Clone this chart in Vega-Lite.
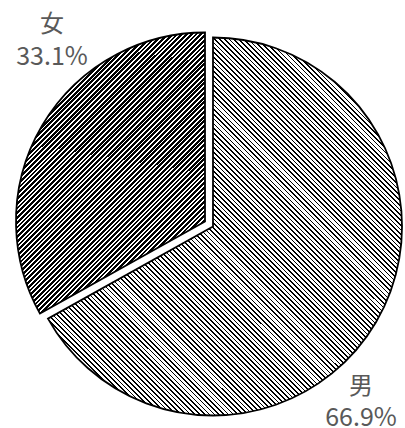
{
  "$schema": "https://vega.github.io/schema/vega-lite/v6.json",
  "width": 384,
  "height": 403,
  "autosize": {"type": "none"},
  "padding": {"left": 21, "top": 25, "right": 0, "bottom": 0},
  "background": "white",
  "config": {"view": {"stroke": null}},
  "data": {"values": [
    {"sex": "男", "share": 0.669},
    {"sex": "女", "share": 0.331}
  ]},
  "encoding": {
    "theta": {"field": "share", "type": "quantitative", "stack": true},
    "order": {"field": "share", "sort": "descending"},
    "detail": {"field": "sex"}
  },
  "layer": [
    {
      "mark": {"type": "arc", "outerRadius": 189, "stroke": "#000000", "strokeWidth": 1.8,
        "fill": {"gradient": "linear", "x1": 0, "y1": 1, "x2": 0.9662, "y2": -0.0317, "stops": [
{"offset":0,"color":"#000"},{"offset":0.0023,"color":"#000"},{"offset":0.0023,"color":"#fff"},{"offset":0.0065,"color":"#fff"},
{"offset":0.0065,"color":"#000"},{"offset":0.0088,"color":"#000"},{"offset":0.0088,"color":"#fff"},{"offset":0.013,"color":"#fff"},
{"offset":0.013,"color":"#000"},{"offset":0.0153,"color":"#000"},{"offset":0.0153,"color":"#fff"},{"offset":0.0195,"color":"#fff"},
{"offset":0.0195,"color":"#000"},{"offset":0.0218,"color":"#000"},{"offset":0.0218,"color":"#fff"},{"offset":0.026,"color":"#fff"},
{"offset":0.026,"color":"#000"},{"offset":0.0283,"color":"#000"},{"offset":0.0283,"color":"#fff"},{"offset":0.0325,"color":"#fff"},
{"offset":0.0325,"color":"#000"},{"offset":0.0348,"color":"#000"},{"offset":0.0348,"color":"#fff"},{"offset":0.039,"color":"#fff"},
{"offset":0.039,"color":"#000"},{"offset":0.0413,"color":"#000"},{"offset":0.0413,"color":"#fff"},{"offset":0.0455,"color":"#fff"},
{"offset":0.0455,"color":"#000"},{"offset":0.0478,"color":"#000"},{"offset":0.0478,"color":"#fff"},{"offset":0.052,"color":"#fff"},
{"offset":0.052,"color":"#000"},{"offset":0.0543,"color":"#000"},{"offset":0.0543,"color":"#fff"},{"offset":0.0585,"color":"#fff"},
{"offset":0.0585,"color":"#000"},{"offset":0.0608,"color":"#000"},{"offset":0.0608,"color":"#fff"},{"offset":0.065,"color":"#fff"},
{"offset":0.065,"color":"#000"},{"offset":0.0673,"color":"#000"},{"offset":0.0673,"color":"#fff"},{"offset":0.0715,"color":"#fff"},
{"offset":0.0715,"color":"#000"},{"offset":0.0738,"color":"#000"},{"offset":0.0738,"color":"#fff"},{"offset":0.078,"color":"#fff"},
{"offset":0.078,"color":"#000"},{"offset":0.0803,"color":"#000"},{"offset":0.0803,"color":"#fff"},{"offset":0.0845,"color":"#fff"},
{"offset":0.0845,"color":"#000"},{"offset":0.0868,"color":"#000"},{"offset":0.0868,"color":"#fff"},{"offset":0.091,"color":"#fff"},
{"offset":0.091,"color":"#000"},{"offset":0.0933,"color":"#000"},{"offset":0.0933,"color":"#fff"},{"offset":0.0975,"color":"#fff"},
{"offset":0.0975,"color":"#000"},{"offset":0.0998,"color":"#000"},{"offset":0.0998,"color":"#fff"},{"offset":0.104,"color":"#fff"},
{"offset":0.104,"color":"#000"},{"offset":0.1063,"color":"#000"},{"offset":0.1063,"color":"#fff"},{"offset":0.1105,"color":"#fff"},
{"offset":0.1105,"color":"#000"},{"offset":0.1128,"color":"#000"},{"offset":0.1128,"color":"#fff"},{"offset":0.117,"color":"#fff"},
{"offset":0.117,"color":"#000"},{"offset":0.1193,"color":"#000"},{"offset":0.1193,"color":"#fff"},{"offset":0.1235,"color":"#fff"},
{"offset":0.1235,"color":"#000"},{"offset":0.1258,"color":"#000"},{"offset":0.1258,"color":"#fff"},{"offset":0.13,"color":"#fff"},
{"offset":0.13,"color":"#000"},{"offset":0.1323,"color":"#000"},{"offset":0.1323,"color":"#fff"},{"offset":0.1365,"color":"#fff"},
{"offset":0.1365,"color":"#000"},{"offset":0.1388,"color":"#000"},{"offset":0.1388,"color":"#fff"},{"offset":0.143,"color":"#fff"},
{"offset":0.143,"color":"#000"},{"offset":0.1453,"color":"#000"},{"offset":0.1453,"color":"#fff"},{"offset":0.1495,"color":"#fff"},
{"offset":0.1495,"color":"#000"},{"offset":0.1518,"color":"#000"},{"offset":0.1518,"color":"#fff"},{"offset":0.156,"color":"#fff"},
{"offset":0.156,"color":"#000"},{"offset":0.1583,"color":"#000"},{"offset":0.1583,"color":"#fff"},{"offset":0.1625,"color":"#fff"},
{"offset":0.1625,"color":"#000"},{"offset":0.1648,"color":"#000"},{"offset":0.1648,"color":"#fff"},{"offset":0.169,"color":"#fff"},
{"offset":0.169,"color":"#000"},{"offset":0.1713,"color":"#000"},{"offset":0.1713,"color":"#fff"},{"offset":0.1755,"color":"#fff"},
{"offset":0.1755,"color":"#000"},{"offset":0.1778,"color":"#000"},{"offset":0.1778,"color":"#fff"},{"offset":0.182,"color":"#fff"},
{"offset":0.182,"color":"#000"},{"offset":0.1843,"color":"#000"},{"offset":0.1843,"color":"#fff"},{"offset":0.1885,"color":"#fff"},
{"offset":0.1885,"color":"#000"},{"offset":0.1908,"color":"#000"},{"offset":0.1908,"color":"#fff"},{"offset":0.195,"color":"#fff"},
{"offset":0.195,"color":"#000"},{"offset":0.1973,"color":"#000"},{"offset":0.1973,"color":"#fff"},{"offset":0.2015,"color":"#fff"},
{"offset":0.2015,"color":"#000"},{"offset":0.2038,"color":"#000"},{"offset":0.2038,"color":"#fff"},{"offset":0.208,"color":"#fff"},
{"offset":0.208,"color":"#000"},{"offset":0.2103,"color":"#000"},{"offset":0.2103,"color":"#fff"},{"offset":0.2145,"color":"#fff"},
{"offset":0.2145,"color":"#000"},{"offset":0.2168,"color":"#000"},{"offset":0.2168,"color":"#fff"},{"offset":0.221,"color":"#fff"},
{"offset":0.221,"color":"#000"},{"offset":0.2233,"color":"#000"},{"offset":0.2233,"color":"#fff"},{"offset":0.2275,"color":"#fff"},
{"offset":0.2275,"color":"#000"},{"offset":0.2298,"color":"#000"},{"offset":0.2298,"color":"#fff"},{"offset":0.234,"color":"#fff"},
{"offset":0.234,"color":"#000"},{"offset":0.2363,"color":"#000"},{"offset":0.2363,"color":"#fff"},{"offset":0.2405,"color":"#fff"},
{"offset":0.2405,"color":"#000"},{"offset":0.2428,"color":"#000"},{"offset":0.2428,"color":"#fff"},{"offset":0.247,"color":"#fff"},
{"offset":0.247,"color":"#000"},{"offset":0.2493,"color":"#000"},{"offset":0.2493,"color":"#fff"},{"offset":0.2535,"color":"#fff"},
{"offset":0.2535,"color":"#000"},{"offset":0.2558,"color":"#000"},{"offset":0.2558,"color":"#fff"},{"offset":0.26,"color":"#fff"},
{"offset":0.26,"color":"#000"},{"offset":0.2623,"color":"#000"},{"offset":0.2623,"color":"#fff"},{"offset":0.2665,"color":"#fff"},
{"offset":0.2665,"color":"#000"},{"offset":0.2688,"color":"#000"},{"offset":0.2688,"color":"#fff"},{"offset":0.273,"color":"#fff"},
{"offset":0.273,"color":"#000"},{"offset":0.2753,"color":"#000"},{"offset":0.2753,"color":"#fff"},{"offset":0.2795,"color":"#fff"},
{"offset":0.2795,"color":"#000"},{"offset":0.2818,"color":"#000"},{"offset":0.2818,"color":"#fff"},{"offset":0.286,"color":"#fff"},
{"offset":0.286,"color":"#000"},{"offset":0.2883,"color":"#000"},{"offset":0.2883,"color":"#fff"},{"offset":0.2925,"color":"#fff"},
{"offset":0.2925,"color":"#000"},{"offset":0.2948,"color":"#000"},{"offset":0.2948,"color":"#fff"},{"offset":0.299,"color":"#fff"},
{"offset":0.299,"color":"#000"},{"offset":0.3013,"color":"#000"},{"offset":0.3013,"color":"#fff"},{"offset":0.3055,"color":"#fff"},
{"offset":0.3055,"color":"#000"},{"offset":0.3078,"color":"#000"},{"offset":0.3078,"color":"#fff"},{"offset":0.312,"color":"#fff"},
{"offset":0.312,"color":"#000"},{"offset":0.3143,"color":"#000"},{"offset":0.3143,"color":"#fff"},{"offset":0.3185,"color":"#fff"},
{"offset":0.3185,"color":"#000"},{"offset":0.3208,"color":"#000"},{"offset":0.3208,"color":"#fff"},{"offset":0.325,"color":"#fff"},
{"offset":0.325,"color":"#000"},{"offset":0.3273,"color":"#000"},{"offset":0.3273,"color":"#fff"},{"offset":0.3315,"color":"#fff"},
{"offset":0.3315,"color":"#000"},{"offset":0.3338,"color":"#000"},{"offset":0.3338,"color":"#fff"},{"offset":0.338,"color":"#fff"},
{"offset":0.338,"color":"#000"},{"offset":0.3403,"color":"#000"},{"offset":0.3403,"color":"#fff"},{"offset":0.3445,"color":"#fff"},
{"offset":0.3445,"color":"#000"},{"offset":0.3468,"color":"#000"},{"offset":0.3468,"color":"#fff"},{"offset":0.351,"color":"#fff"},
{"offset":0.351,"color":"#000"},{"offset":0.3533,"color":"#000"},{"offset":0.3533,"color":"#fff"},{"offset":0.3575,"color":"#fff"},
{"offset":0.3575,"color":"#000"},{"offset":0.3598,"color":"#000"},{"offset":0.3598,"color":"#fff"},{"offset":0.364,"color":"#fff"},
{"offset":0.364,"color":"#000"},{"offset":0.3663,"color":"#000"},{"offset":0.3663,"color":"#fff"},{"offset":0.3705,"color":"#fff"},
{"offset":0.3705,"color":"#000"},{"offset":0.3728,"color":"#000"},{"offset":0.3728,"color":"#fff"},{"offset":0.377,"color":"#fff"},
{"offset":0.377,"color":"#000"},{"offset":0.3793,"color":"#000"},{"offset":0.3793,"color":"#fff"},{"offset":0.3835,"color":"#fff"},
{"offset":0.3835,"color":"#000"},{"offset":0.3858,"color":"#000"},{"offset":0.3858,"color":"#fff"},{"offset":0.39,"color":"#fff"},
{"offset":0.39,"color":"#000"},{"offset":0.3923,"color":"#000"},{"offset":0.3923,"color":"#fff"},{"offset":0.3965,"color":"#fff"},
{"offset":0.3965,"color":"#000"},{"offset":0.3988,"color":"#000"},{"offset":0.3988,"color":"#fff"},{"offset":0.403,"color":"#fff"},
{"offset":0.403,"color":"#000"},{"offset":0.4053,"color":"#000"},{"offset":0.4053,"color":"#fff"},{"offset":0.4095,"color":"#fff"},
{"offset":0.4095,"color":"#000"},{"offset":0.4118,"color":"#000"},{"offset":0.4118,"color":"#fff"},{"offset":0.416,"color":"#fff"},
{"offset":0.416,"color":"#000"},{"offset":0.4183,"color":"#000"},{"offset":0.4183,"color":"#fff"},{"offset":0.4225,"color":"#fff"},
{"offset":0.4225,"color":"#000"},{"offset":0.4248,"color":"#000"},{"offset":0.4248,"color":"#fff"},{"offset":0.429,"color":"#fff"},
{"offset":0.429,"color":"#000"},{"offset":0.4313,"color":"#000"},{"offset":0.4313,"color":"#fff"},{"offset":0.4355,"color":"#fff"},
{"offset":0.4355,"color":"#000"},{"offset":0.4378,"color":"#000"},{"offset":0.4378,"color":"#fff"},{"offset":0.442,"color":"#fff"},
{"offset":0.442,"color":"#000"},{"offset":0.4443,"color":"#000"},{"offset":0.4443,"color":"#fff"},{"offset":0.4485,"color":"#fff"},
{"offset":0.4485,"color":"#000"},{"offset":0.4508,"color":"#000"},{"offset":0.4508,"color":"#fff"},{"offset":0.455,"color":"#fff"},
{"offset":0.455,"color":"#000"},{"offset":0.4573,"color":"#000"},{"offset":0.4573,"color":"#fff"},{"offset":0.4615,"color":"#fff"},
{"offset":0.4615,"color":"#000"},{"offset":0.4638,"color":"#000"},{"offset":0.4638,"color":"#fff"},{"offset":0.468,"color":"#fff"},
{"offset":0.468,"color":"#000"},{"offset":0.4703,"color":"#000"},{"offset":0.4703,"color":"#fff"},{"offset":0.4745,"color":"#fff"},
{"offset":0.4745,"color":"#000"},{"offset":0.4768,"color":"#000"},{"offset":0.4768,"color":"#fff"},{"offset":0.481,"color":"#fff"},
{"offset":0.481,"color":"#000"},{"offset":0.4833,"color":"#000"},{"offset":0.4833,"color":"#fff"},{"offset":0.4875,"color":"#fff"},
{"offset":0.4875,"color":"#000"},{"offset":0.4898,"color":"#000"},{"offset":0.4898,"color":"#fff"},{"offset":0.494,"color":"#fff"},
{"offset":0.494,"color":"#000"},{"offset":0.4963,"color":"#000"},{"offset":0.4963,"color":"#fff"},{"offset":0.5005,"color":"#fff"},
{"offset":0.5005,"color":"#000"},{"offset":0.5028,"color":"#000"},{"offset":0.5028,"color":"#fff"},{"offset":0.507,"color":"#fff"},
{"offset":0.507,"color":"#000"},{"offset":0.5093,"color":"#000"},{"offset":0.5093,"color":"#fff"},{"offset":0.5135,"color":"#fff"},
{"offset":0.5135,"color":"#000"},{"offset":0.5158,"color":"#000"},{"offset":0.5158,"color":"#fff"},{"offset":0.52,"color":"#fff"},
{"offset":0.52,"color":"#000"},{"offset":0.5223,"color":"#000"},{"offset":0.5223,"color":"#fff"},{"offset":0.5265,"color":"#fff"},
{"offset":0.5265,"color":"#000"},{"offset":0.5288,"color":"#000"},{"offset":0.5288,"color":"#fff"},{"offset":0.533,"color":"#fff"},
{"offset":0.533,"color":"#000"},{"offset":0.5353,"color":"#000"},{"offset":0.5353,"color":"#fff"},{"offset":0.5395,"color":"#fff"},
{"offset":0.5395,"color":"#000"},{"offset":0.5418,"color":"#000"},{"offset":0.5418,"color":"#fff"},{"offset":0.546,"color":"#fff"},
{"offset":0.546,"color":"#000"},{"offset":0.5483,"color":"#000"},{"offset":0.5483,"color":"#fff"},{"offset":0.5525,"color":"#fff"},
{"offset":0.5525,"color":"#000"},{"offset":0.5548,"color":"#000"},{"offset":0.5548,"color":"#fff"},{"offset":0.559,"color":"#fff"},
{"offset":0.559,"color":"#000"},{"offset":0.5613,"color":"#000"},{"offset":0.5613,"color":"#fff"},{"offset":0.5655,"color":"#fff"},
{"offset":0.5655,"color":"#000"},{"offset":0.5678,"color":"#000"},{"offset":0.5678,"color":"#fff"},{"offset":0.572,"color":"#fff"},
{"offset":0.572,"color":"#000"},{"offset":0.5743,"color":"#000"},{"offset":0.5743,"color":"#fff"},{"offset":0.5785,"color":"#fff"},
{"offset":0.5785,"color":"#000"},{"offset":0.5808,"color":"#000"},{"offset":0.5808,"color":"#fff"},{"offset":0.585,"color":"#fff"},
{"offset":0.585,"color":"#000"},{"offset":0.5873,"color":"#000"},{"offset":0.5873,"color":"#fff"},{"offset":0.5915,"color":"#fff"},
{"offset":0.5915,"color":"#000"},{"offset":0.5938,"color":"#000"},{"offset":0.5938,"color":"#fff"},{"offset":0.598,"color":"#fff"},
{"offset":0.598,"color":"#000"},{"offset":0.6003,"color":"#000"},{"offset":0.6003,"color":"#fff"},{"offset":0.6045,"color":"#fff"},
{"offset":0.6045,"color":"#000"},{"offset":0.6068,"color":"#000"},{"offset":0.6068,"color":"#fff"},{"offset":0.611,"color":"#fff"},
{"offset":0.611,"color":"#000"},{"offset":0.6133,"color":"#000"},{"offset":0.6133,"color":"#fff"},{"offset":0.6175,"color":"#fff"},
{"offset":0.6175,"color":"#000"},{"offset":0.6198,"color":"#000"},{"offset":0.6198,"color":"#fff"},{"offset":0.624,"color":"#fff"},
{"offset":0.624,"color":"#000"},{"offset":0.6263,"color":"#000"},{"offset":0.6263,"color":"#fff"},{"offset":0.6305,"color":"#fff"},
{"offset":0.6305,"color":"#000"},{"offset":0.6328,"color":"#000"},{"offset":0.6328,"color":"#fff"},{"offset":0.637,"color":"#fff"},
{"offset":0.637,"color":"#000"},{"offset":0.6393,"color":"#000"},{"offset":0.6393,"color":"#fff"},{"offset":0.6435,"color":"#fff"},
{"offset":0.6435,"color":"#000"},{"offset":0.6458,"color":"#000"},{"offset":0.6458,"color":"#fff"},{"offset":0.65,"color":"#fff"},
{"offset":0.65,"color":"#000"},{"offset":0.6523,"color":"#000"},{"offset":0.6523,"color":"#fff"},{"offset":0.6565,"color":"#fff"},
{"offset":0.6565,"color":"#000"},{"offset":0.6588,"color":"#000"},{"offset":0.6588,"color":"#fff"},{"offset":0.663,"color":"#fff"},
{"offset":0.663,"color":"#000"},{"offset":0.6653,"color":"#000"},{"offset":0.6653,"color":"#fff"},{"offset":0.6695,"color":"#fff"},
{"offset":0.6695,"color":"#000"},{"offset":0.6718,"color":"#000"},{"offset":0.6718,"color":"#fff"},{"offset":0.676,"color":"#fff"},
{"offset":0.676,"color":"#000"},{"offset":0.6783,"color":"#000"},{"offset":0.6783,"color":"#fff"},{"offset":0.6825,"color":"#fff"},
{"offset":0.6825,"color":"#000"},{"offset":0.6848,"color":"#000"},{"offset":0.6848,"color":"#fff"},{"offset":0.689,"color":"#fff"},
{"offset":0.689,"color":"#000"},{"offset":0.6913,"color":"#000"},{"offset":0.6913,"color":"#fff"},{"offset":0.6955,"color":"#fff"},
{"offset":0.6955,"color":"#000"},{"offset":0.6978,"color":"#000"},{"offset":0.6978,"color":"#fff"},{"offset":0.702,"color":"#fff"},
{"offset":0.702,"color":"#000"},{"offset":0.7043,"color":"#000"},{"offset":0.7043,"color":"#fff"},{"offset":0.7085,"color":"#fff"},
{"offset":0.7085,"color":"#000"},{"offset":0.7108,"color":"#000"},{"offset":0.7108,"color":"#fff"},{"offset":0.715,"color":"#fff"},
{"offset":0.715,"color":"#000"},{"offset":0.7173,"color":"#000"},{"offset":0.7173,"color":"#fff"},{"offset":0.7215,"color":"#fff"},
{"offset":0.7215,"color":"#000"},{"offset":0.7238,"color":"#000"},{"offset":0.7238,"color":"#fff"},{"offset":0.728,"color":"#fff"},
{"offset":0.728,"color":"#000"},{"offset":0.7303,"color":"#000"},{"offset":0.7303,"color":"#fff"},{"offset":0.7345,"color":"#fff"},
{"offset":0.7345,"color":"#000"},{"offset":0.7368,"color":"#000"},{"offset":0.7368,"color":"#fff"},{"offset":0.741,"color":"#fff"},
{"offset":0.741,"color":"#000"},{"offset":0.7433,"color":"#000"},{"offset":0.7433,"color":"#fff"},{"offset":0.7475,"color":"#fff"},
{"offset":0.7475,"color":"#000"},{"offset":0.7498,"color":"#000"},{"offset":0.7498,"color":"#fff"},{"offset":0.754,"color":"#fff"},
{"offset":0.754,"color":"#000"},{"offset":0.7563,"color":"#000"},{"offset":0.7563,"color":"#fff"},{"offset":0.7605,"color":"#fff"},
{"offset":0.7605,"color":"#000"},{"offset":0.7628,"color":"#000"},{"offset":0.7628,"color":"#fff"},{"offset":0.767,"color":"#fff"},
{"offset":0.767,"color":"#000"},{"offset":0.7693,"color":"#000"},{"offset":0.7693,"color":"#fff"},{"offset":0.7735,"color":"#fff"},
{"offset":0.7735,"color":"#000"},{"offset":0.7758,"color":"#000"},{"offset":0.7758,"color":"#fff"},{"offset":0.78,"color":"#fff"},
{"offset":0.78,"color":"#000"},{"offset":0.7823,"color":"#000"},{"offset":0.7823,"color":"#fff"},{"offset":0.7865,"color":"#fff"},
{"offset":0.7865,"color":"#000"},{"offset":0.7888,"color":"#000"},{"offset":0.7888,"color":"#fff"},{"offset":0.793,"color":"#fff"},
{"offset":0.793,"color":"#000"},{"offset":0.7953,"color":"#000"},{"offset":0.7953,"color":"#fff"},{"offset":0.7995,"color":"#fff"},
{"offset":0.7995,"color":"#000"},{"offset":0.8018,"color":"#000"},{"offset":0.8018,"color":"#fff"},{"offset":0.806,"color":"#fff"},
{"offset":0.806,"color":"#000"},{"offset":0.8083,"color":"#000"},{"offset":0.8083,"color":"#fff"},{"offset":0.8125,"color":"#fff"},
{"offset":0.8125,"color":"#000"},{"offset":0.8148,"color":"#000"},{"offset":0.8148,"color":"#fff"},{"offset":0.819,"color":"#fff"},
{"offset":0.819,"color":"#000"},{"offset":0.8213,"color":"#000"},{"offset":0.8213,"color":"#fff"},{"offset":0.8255,"color":"#fff"},
{"offset":0.8255,"color":"#000"},{"offset":0.8278,"color":"#000"},{"offset":0.8278,"color":"#fff"},{"offset":0.832,"color":"#fff"},
{"offset":0.832,"color":"#000"},{"offset":0.8343,"color":"#000"},{"offset":0.8343,"color":"#fff"},{"offset":0.8385,"color":"#fff"},
{"offset":0.8385,"color":"#000"},{"offset":0.8408,"color":"#000"},{"offset":0.8408,"color":"#fff"},{"offset":0.845,"color":"#fff"},
{"offset":0.845,"color":"#000"},{"offset":0.8473,"color":"#000"},{"offset":0.8473,"color":"#fff"},{"offset":0.8515,"color":"#fff"},
{"offset":0.8515,"color":"#000"},{"offset":0.8538,"color":"#000"},{"offset":0.8538,"color":"#fff"},{"offset":0.858,"color":"#fff"},
{"offset":0.858,"color":"#000"},{"offset":0.8603,"color":"#000"},{"offset":0.8603,"color":"#fff"},{"offset":0.8645,"color":"#fff"},
{"offset":0.8645,"color":"#000"},{"offset":0.8668,"color":"#000"},{"offset":0.8668,"color":"#fff"},{"offset":0.871,"color":"#fff"},
{"offset":0.871,"color":"#000"},{"offset":0.8733,"color":"#000"},{"offset":0.8733,"color":"#fff"},{"offset":0.8775,"color":"#fff"},
{"offset":0.8775,"color":"#000"},{"offset":0.8798,"color":"#000"},{"offset":0.8798,"color":"#fff"},{"offset":0.884,"color":"#fff"},
{"offset":0.884,"color":"#000"},{"offset":0.8863,"color":"#000"},{"offset":0.8863,"color":"#fff"},{"offset":0.8905,"color":"#fff"},
{"offset":0.8905,"color":"#000"},{"offset":0.8928,"color":"#000"},{"offset":0.8928,"color":"#fff"},{"offset":0.897,"color":"#fff"},
{"offset":0.897,"color":"#000"},{"offset":0.8993,"color":"#000"},{"offset":0.8993,"color":"#fff"},{"offset":0.9035,"color":"#fff"},
{"offset":0.9035,"color":"#000"},{"offset":0.9058,"color":"#000"},{"offset":0.9058,"color":"#fff"},{"offset":0.91,"color":"#fff"},
{"offset":0.91,"color":"#000"},{"offset":0.9123,"color":"#000"},{"offset":0.9123,"color":"#fff"},{"offset":0.9165,"color":"#fff"},
{"offset":0.9165,"color":"#000"},{"offset":0.9188,"color":"#000"},{"offset":0.9188,"color":"#fff"},{"offset":0.923,"color":"#fff"},
{"offset":0.923,"color":"#000"},{"offset":0.9253,"color":"#000"},{"offset":0.9253,"color":"#fff"},{"offset":0.9295,"color":"#fff"},
{"offset":0.9295,"color":"#000"},{"offset":0.9318,"color":"#000"},{"offset":0.9318,"color":"#fff"},{"offset":0.936,"color":"#fff"},
{"offset":0.936,"color":"#000"},{"offset":0.9383,"color":"#000"},{"offset":0.9383,"color":"#fff"},{"offset":0.9425,"color":"#fff"},
{"offset":0.9425,"color":"#000"},{"offset":0.9448,"color":"#000"},{"offset":0.9448,"color":"#fff"},{"offset":0.949,"color":"#fff"},
{"offset":0.949,"color":"#000"},{"offset":0.9513,"color":"#000"},{"offset":0.9513,"color":"#fff"},{"offset":0.9555,"color":"#fff"},
{"offset":0.9555,"color":"#000"},{"offset":0.9578,"color":"#000"},{"offset":0.9578,"color":"#fff"},{"offset":0.962,"color":"#fff"},
{"offset":0.962,"color":"#000"},{"offset":0.9643,"color":"#000"},{"offset":0.9643,"color":"#fff"},{"offset":0.9685,"color":"#fff"},
{"offset":0.9685,"color":"#000"},{"offset":0.9708,"color":"#000"},{"offset":0.9708,"color":"#fff"},{"offset":0.975,"color":"#fff"},
{"offset":0.975,"color":"#000"},{"offset":0.9773,"color":"#000"},{"offset":0.9773,"color":"#fff"},{"offset":0.9815,"color":"#fff"},
{"offset":0.9815,"color":"#000"},{"offset":0.9838,"color":"#000"},{"offset":0.9838,"color":"#fff"},{"offset":0.988,"color":"#fff"},
{"offset":0.988,"color":"#000"},{"offset":0.9903,"color":"#000"},{"offset":0.9903,"color":"#fff"},{"offset":0.9945,"color":"#fff"},
{"offset":0.9945,"color":"#000"},{"offset":0.9968,"color":"#000"},{"offset":0.9968,"color":"#fff"},{"offset":1,"color":"#fff"}
        ]}},
      "encoding": {"opacity": {"condition": {"test": "datum.sex === '男'", "value": 1}, "value": 0}}
    },
    {
      "mark": {"type": "arc", "outerRadius": 189, "xOffset": -8, "yOffset": -5, "stroke": "#000000", "strokeWidth": 1.8,
        "fill": {"gradient": "linear", "x1": 0, "y1": 0, "x2": 0.774, "y2": 1.152, "stops": [
{"offset":0,"color":"#000"},{"offset":0.006,"color":"#000"},{"offset":0.006,"color":"#fff"},{"offset":0.0101,"color":"#fff"},
{"offset":0.0101,"color":"#000"},{"offset":0.0161,"color":"#000"},{"offset":0.0161,"color":"#fff"},{"offset":0.0202,"color":"#fff"},
{"offset":0.0202,"color":"#000"},{"offset":0.0262,"color":"#000"},{"offset":0.0262,"color":"#fff"},{"offset":0.0303,"color":"#fff"},
{"offset":0.0303,"color":"#000"},{"offset":0.0363,"color":"#000"},{"offset":0.0363,"color":"#fff"},{"offset":0.0404,"color":"#fff"},
{"offset":0.0404,"color":"#000"},{"offset":0.0464,"color":"#000"},{"offset":0.0464,"color":"#fff"},{"offset":0.0505,"color":"#fff"},
{"offset":0.0505,"color":"#000"},{"offset":0.0565,"color":"#000"},{"offset":0.0565,"color":"#fff"},{"offset":0.0606,"color":"#fff"},
{"offset":0.0606,"color":"#000"},{"offset":0.0666,"color":"#000"},{"offset":0.0666,"color":"#fff"},{"offset":0.0707,"color":"#fff"},
{"offset":0.0707,"color":"#000"},{"offset":0.0767,"color":"#000"},{"offset":0.0767,"color":"#fff"},{"offset":0.0808,"color":"#fff"},
{"offset":0.0808,"color":"#000"},{"offset":0.0868,"color":"#000"},{"offset":0.0868,"color":"#fff"},{"offset":0.0909,"color":"#fff"},
{"offset":0.0909,"color":"#000"},{"offset":0.0969,"color":"#000"},{"offset":0.0969,"color":"#fff"},{"offset":0.101,"color":"#fff"},
{"offset":0.101,"color":"#000"},{"offset":0.107,"color":"#000"},{"offset":0.107,"color":"#fff"},{"offset":0.1111,"color":"#fff"},
{"offset":0.1111,"color":"#000"},{"offset":0.1171,"color":"#000"},{"offset":0.1171,"color":"#fff"},{"offset":0.1212,"color":"#fff"},
{"offset":0.1212,"color":"#000"},{"offset":0.1272,"color":"#000"},{"offset":0.1272,"color":"#fff"},{"offset":0.1313,"color":"#fff"},
{"offset":0.1313,"color":"#000"},{"offset":0.1373,"color":"#000"},{"offset":0.1373,"color":"#fff"},{"offset":0.1414,"color":"#fff"},
{"offset":0.1414,"color":"#000"},{"offset":0.1474,"color":"#000"},{"offset":0.1474,"color":"#fff"},{"offset":0.1515,"color":"#fff"},
{"offset":0.1515,"color":"#000"},{"offset":0.1575,"color":"#000"},{"offset":0.1575,"color":"#fff"},{"offset":0.1616,"color":"#fff"},
{"offset":0.1616,"color":"#000"},{"offset":0.1676,"color":"#000"},{"offset":0.1676,"color":"#fff"},{"offset":0.1717,"color":"#fff"},
{"offset":0.1717,"color":"#000"},{"offset":0.1777,"color":"#000"},{"offset":0.1777,"color":"#fff"},{"offset":0.1818,"color":"#fff"},
{"offset":0.1818,"color":"#000"},{"offset":0.1878,"color":"#000"},{"offset":0.1878,"color":"#fff"},{"offset":0.1919,"color":"#fff"},
{"offset":0.1919,"color":"#000"},{"offset":0.1979,"color":"#000"},{"offset":0.1979,"color":"#fff"},{"offset":0.202,"color":"#fff"},
{"offset":0.202,"color":"#000"},{"offset":0.208,"color":"#000"},{"offset":0.208,"color":"#fff"},{"offset":0.2121,"color":"#fff"},
{"offset":0.2121,"color":"#000"},{"offset":0.2181,"color":"#000"},{"offset":0.2181,"color":"#fff"},{"offset":0.2222,"color":"#fff"},
{"offset":0.2222,"color":"#000"},{"offset":0.2282,"color":"#000"},{"offset":0.2282,"color":"#fff"},{"offset":0.2323,"color":"#fff"},
{"offset":0.2323,"color":"#000"},{"offset":0.2383,"color":"#000"},{"offset":0.2383,"color":"#fff"},{"offset":0.2424,"color":"#fff"},
{"offset":0.2424,"color":"#000"},{"offset":0.2484,"color":"#000"},{"offset":0.2484,"color":"#fff"},{"offset":0.2525,"color":"#fff"},
{"offset":0.2525,"color":"#000"},{"offset":0.2585,"color":"#000"},{"offset":0.2585,"color":"#fff"},{"offset":0.2626,"color":"#fff"},
{"offset":0.2626,"color":"#000"},{"offset":0.2686,"color":"#000"},{"offset":0.2686,"color":"#fff"},{"offset":0.2727,"color":"#fff"},
{"offset":0.2727,"color":"#000"},{"offset":0.2787,"color":"#000"},{"offset":0.2787,"color":"#fff"},{"offset":0.2828,"color":"#fff"},
{"offset":0.2828,"color":"#000"},{"offset":0.2888,"color":"#000"},{"offset":0.2888,"color":"#fff"},{"offset":0.2929,"color":"#fff"},
{"offset":0.2929,"color":"#000"},{"offset":0.2989,"color":"#000"},{"offset":0.2989,"color":"#fff"},{"offset":0.303,"color":"#fff"},
{"offset":0.303,"color":"#000"},{"offset":0.309,"color":"#000"},{"offset":0.309,"color":"#fff"},{"offset":0.3131,"color":"#fff"},
{"offset":0.3131,"color":"#000"},{"offset":0.3191,"color":"#000"},{"offset":0.3191,"color":"#fff"},{"offset":0.3232,"color":"#fff"},
{"offset":0.3232,"color":"#000"},{"offset":0.3292,"color":"#000"},{"offset":0.3292,"color":"#fff"},{"offset":0.3333,"color":"#fff"},
{"offset":0.3333,"color":"#000"},{"offset":0.3393,"color":"#000"},{"offset":0.3393,"color":"#fff"},{"offset":0.3434,"color":"#fff"},
{"offset":0.3434,"color":"#000"},{"offset":0.3494,"color":"#000"},{"offset":0.3494,"color":"#fff"},{"offset":0.3535,"color":"#fff"},
{"offset":0.3535,"color":"#000"},{"offset":0.3595,"color":"#000"},{"offset":0.3595,"color":"#fff"},{"offset":0.3636,"color":"#fff"},
{"offset":0.3636,"color":"#000"},{"offset":0.3696,"color":"#000"},{"offset":0.3696,"color":"#fff"},{"offset":0.3737,"color":"#fff"},
{"offset":0.3737,"color":"#000"},{"offset":0.3797,"color":"#000"},{"offset":0.3797,"color":"#fff"},{"offset":0.3838,"color":"#fff"},
{"offset":0.3838,"color":"#000"},{"offset":0.3898,"color":"#000"},{"offset":0.3898,"color":"#fff"},{"offset":0.3939,"color":"#fff"},
{"offset":0.3939,"color":"#000"},{"offset":0.3999,"color":"#000"},{"offset":0.3999,"color":"#fff"},{"offset":0.404,"color":"#fff"},
{"offset":0.404,"color":"#000"},{"offset":0.41,"color":"#000"},{"offset":0.41,"color":"#fff"},{"offset":0.4141,"color":"#fff"},
{"offset":0.4141,"color":"#000"},{"offset":0.4201,"color":"#000"},{"offset":0.4201,"color":"#fff"},{"offset":0.4242,"color":"#fff"},
{"offset":0.4242,"color":"#000"},{"offset":0.4302,"color":"#000"},{"offset":0.4302,"color":"#fff"},{"offset":0.4343,"color":"#fff"},
{"offset":0.4343,"color":"#000"},{"offset":0.4403,"color":"#000"},{"offset":0.4403,"color":"#fff"},{"offset":0.4444,"color":"#fff"},
{"offset":0.4444,"color":"#000"},{"offset":0.4504,"color":"#000"},{"offset":0.4504,"color":"#fff"},{"offset":0.4545,"color":"#fff"},
{"offset":0.4545,"color":"#000"},{"offset":0.4605,"color":"#000"},{"offset":0.4605,"color":"#fff"},{"offset":0.4646,"color":"#fff"},
{"offset":0.4646,"color":"#000"},{"offset":0.4706,"color":"#000"},{"offset":0.4706,"color":"#fff"},{"offset":0.4747,"color":"#fff"},
{"offset":0.4747,"color":"#000"},{"offset":0.4807,"color":"#000"},{"offset":0.4807,"color":"#fff"},{"offset":0.4848,"color":"#fff"},
{"offset":0.4848,"color":"#000"},{"offset":0.4908,"color":"#000"},{"offset":0.4908,"color":"#fff"},{"offset":0.4949,"color":"#fff"},
{"offset":0.4949,"color":"#000"},{"offset":0.5009,"color":"#000"},{"offset":0.5009,"color":"#fff"},{"offset":0.505,"color":"#fff"},
{"offset":0.505,"color":"#000"},{"offset":0.511,"color":"#000"},{"offset":0.511,"color":"#fff"},{"offset":0.5151,"color":"#fff"},
{"offset":0.5151,"color":"#000"},{"offset":0.5211,"color":"#000"},{"offset":0.5211,"color":"#fff"},{"offset":0.5252,"color":"#fff"},
{"offset":0.5252,"color":"#000"},{"offset":0.5312,"color":"#000"},{"offset":0.5312,"color":"#fff"},{"offset":0.5353,"color":"#fff"},
{"offset":0.5353,"color":"#000"},{"offset":0.5413,"color":"#000"},{"offset":0.5413,"color":"#fff"},{"offset":0.5454,"color":"#fff"},
{"offset":0.5454,"color":"#000"},{"offset":0.5514,"color":"#000"},{"offset":0.5514,"color":"#fff"},{"offset":0.5555,"color":"#fff"},
{"offset":0.5555,"color":"#000"},{"offset":0.5615,"color":"#000"},{"offset":0.5615,"color":"#fff"},{"offset":0.5656,"color":"#fff"},
{"offset":0.5656,"color":"#000"},{"offset":0.5716,"color":"#000"},{"offset":0.5716,"color":"#fff"},{"offset":0.5757,"color":"#fff"},
{"offset":0.5757,"color":"#000"},{"offset":0.5817,"color":"#000"},{"offset":0.5817,"color":"#fff"},{"offset":0.5858,"color":"#fff"},
{"offset":0.5858,"color":"#000"},{"offset":0.5918,"color":"#000"},{"offset":0.5918,"color":"#fff"},{"offset":0.5959,"color":"#fff"},
{"offset":0.5959,"color":"#000"},{"offset":0.6019,"color":"#000"},{"offset":0.6019,"color":"#fff"},{"offset":0.606,"color":"#fff"},
{"offset":0.606,"color":"#000"},{"offset":0.612,"color":"#000"},{"offset":0.612,"color":"#fff"},{"offset":0.6161,"color":"#fff"},
{"offset":0.6161,"color":"#000"},{"offset":0.6221,"color":"#000"},{"offset":0.6221,"color":"#fff"},{"offset":0.6262,"color":"#fff"},
{"offset":0.6262,"color":"#000"},{"offset":0.6322,"color":"#000"},{"offset":0.6322,"color":"#fff"},{"offset":0.6363,"color":"#fff"},
{"offset":0.6363,"color":"#000"},{"offset":0.6423,"color":"#000"},{"offset":0.6423,"color":"#fff"},{"offset":0.6464,"color":"#fff"},
{"offset":0.6464,"color":"#000"},{"offset":0.6524,"color":"#000"},{"offset":0.6524,"color":"#fff"},{"offset":0.6565,"color":"#fff"},
{"offset":0.6565,"color":"#000"},{"offset":0.6625,"color":"#000"},{"offset":0.6625,"color":"#fff"},{"offset":0.6666,"color":"#fff"},
{"offset":0.6666,"color":"#000"},{"offset":0.6726,"color":"#000"},{"offset":0.6726,"color":"#fff"},{"offset":0.6767,"color":"#fff"},
{"offset":0.6767,"color":"#000"},{"offset":0.6827,"color":"#000"},{"offset":0.6827,"color":"#fff"},{"offset":0.6868,"color":"#fff"},
{"offset":0.6868,"color":"#000"},{"offset":0.6928,"color":"#000"},{"offset":0.6928,"color":"#fff"},{"offset":0.6969,"color":"#fff"},
{"offset":0.6969,"color":"#000"},{"offset":0.7029,"color":"#000"},{"offset":0.7029,"color":"#fff"},{"offset":0.707,"color":"#fff"},
{"offset":0.707,"color":"#000"},{"offset":0.713,"color":"#000"},{"offset":0.713,"color":"#fff"},{"offset":0.7171,"color":"#fff"},
{"offset":0.7171,"color":"#000"},{"offset":0.7231,"color":"#000"},{"offset":0.7231,"color":"#fff"},{"offset":0.7272,"color":"#fff"},
{"offset":0.7272,"color":"#000"},{"offset":0.7332,"color":"#000"},{"offset":0.7332,"color":"#fff"},{"offset":0.7373,"color":"#fff"},
{"offset":0.7373,"color":"#000"},{"offset":0.7433,"color":"#000"},{"offset":0.7433,"color":"#fff"},{"offset":0.7474,"color":"#fff"},
{"offset":0.7474,"color":"#000"},{"offset":0.7534,"color":"#000"},{"offset":0.7534,"color":"#fff"},{"offset":0.7575,"color":"#fff"},
{"offset":0.7575,"color":"#000"},{"offset":0.7635,"color":"#000"},{"offset":0.7635,"color":"#fff"},{"offset":0.7676,"color":"#fff"},
{"offset":0.7676,"color":"#000"},{"offset":0.7736,"color":"#000"},{"offset":0.7736,"color":"#fff"},{"offset":0.7777,"color":"#fff"},
{"offset":0.7777,"color":"#000"},{"offset":0.7837,"color":"#000"},{"offset":0.7837,"color":"#fff"},{"offset":0.7878,"color":"#fff"},
{"offset":0.7878,"color":"#000"},{"offset":0.7938,"color":"#000"},{"offset":0.7938,"color":"#fff"},{"offset":0.7979,"color":"#fff"},
{"offset":0.7979,"color":"#000"},{"offset":0.8039,"color":"#000"},{"offset":0.8039,"color":"#fff"},{"offset":0.808,"color":"#fff"},
{"offset":0.808,"color":"#000"},{"offset":0.814,"color":"#000"},{"offset":0.814,"color":"#fff"},{"offset":0.8181,"color":"#fff"},
{"offset":0.8181,"color":"#000"},{"offset":0.8241,"color":"#000"},{"offset":0.8241,"color":"#fff"},{"offset":0.8282,"color":"#fff"},
{"offset":0.8282,"color":"#000"},{"offset":0.8342,"color":"#000"},{"offset":0.8342,"color":"#fff"},{"offset":0.8383,"color":"#fff"},
{"offset":0.8383,"color":"#000"},{"offset":0.8443,"color":"#000"},{"offset":0.8443,"color":"#fff"},{"offset":0.8484,"color":"#fff"},
{"offset":0.8484,"color":"#000"},{"offset":0.8544,"color":"#000"},{"offset":0.8544,"color":"#fff"},{"offset":0.8585,"color":"#fff"},
{"offset":0.8585,"color":"#000"},{"offset":0.8645,"color":"#000"},{"offset":0.8645,"color":"#fff"},{"offset":0.8686,"color":"#fff"},
{"offset":0.8686,"color":"#000"},{"offset":0.8746,"color":"#000"},{"offset":0.8746,"color":"#fff"},{"offset":0.8787,"color":"#fff"},
{"offset":0.8787,"color":"#000"},{"offset":0.8847,"color":"#000"},{"offset":0.8847,"color":"#fff"},{"offset":0.8888,"color":"#fff"},
{"offset":0.8888,"color":"#000"},{"offset":0.8948,"color":"#000"},{"offset":0.8948,"color":"#fff"},{"offset":0.8989,"color":"#fff"},
{"offset":0.8989,"color":"#000"},{"offset":0.9049,"color":"#000"},{"offset":0.9049,"color":"#fff"},{"offset":0.909,"color":"#fff"},
{"offset":0.909,"color":"#000"},{"offset":0.915,"color":"#000"},{"offset":0.915,"color":"#fff"},{"offset":0.9191,"color":"#fff"},
{"offset":0.9191,"color":"#000"},{"offset":0.9251,"color":"#000"},{"offset":0.9251,"color":"#fff"},{"offset":0.9292,"color":"#fff"},
{"offset":0.9292,"color":"#000"},{"offset":0.9352,"color":"#000"},{"offset":0.9352,"color":"#fff"},{"offset":0.9393,"color":"#fff"},
{"offset":0.9393,"color":"#000"},{"offset":0.9453,"color":"#000"},{"offset":0.9453,"color":"#fff"},{"offset":0.9494,"color":"#fff"},
{"offset":0.9494,"color":"#000"},{"offset":0.9554,"color":"#000"},{"offset":0.9554,"color":"#fff"},{"offset":0.9595,"color":"#fff"},
{"offset":0.9595,"color":"#000"},{"offset":0.9655,"color":"#000"},{"offset":0.9655,"color":"#fff"},{"offset":0.9696,"color":"#fff"},
{"offset":0.9696,"color":"#000"},{"offset":0.9756,"color":"#000"},{"offset":0.9756,"color":"#fff"},{"offset":0.9797,"color":"#fff"},
{"offset":0.9797,"color":"#000"},{"offset":0.9857,"color":"#000"},{"offset":0.9857,"color":"#fff"},{"offset":0.9898,"color":"#fff"},
{"offset":0.9898,"color":"#000"},{"offset":0.9958,"color":"#000"},{"offset":0.9958,"color":"#fff"},{"offset":1,"color":"#fff"}
        ]}},
      "encoding": {"opacity": {"condition": {"test": "datum.sex === '女'", "value": 1}, "value": 0}}
    },
    {
      "mark": {"type": "text", "radius": 229, "thetaOffset": 0.337, "dy": -14, "font": "Noto Sans CJK JP", "fontSize": 24, "color": "#595959", "align": "center", "baseline": "middle"},
      "encoding": {"text": {"field": "sex"}, "opacity": {"condition": {"test": "datum.sex === '男'", "value": 1}, "value": 0}}
    },
    {
      "mark": {"type": "text", "radius": 229, "thetaOffset": 0.337, "dy": 17, "font": "Noto Sans CJK JP", "fontSize": 25, "color": "#595959", "align": "center", "baseline": "middle"},
      "encoding": {"text": {"field": "share", "format": ".1%"}, "opacity": {"condition": {"test": "datum.sex === '男'", "value": 1}, "value": 0}}
    },
    {
      "mark": {"type": "text", "radius": 249, "thetaOffset": 0.337, "dy": -11.5, "font": "Noto Sans CJK JP", "fontSize": 24, "color": "#595959", "align": "center", "baseline": "middle"},
      "encoding": {"text": {"field": "sex"}, "opacity": {"condition": {"test": "datum.sex === '女'", "value": 1}, "value": 0}}
    },
    {
      "mark": {"type": "text", "radius": 249, "thetaOffset": 0.337, "dy": 20.5, "font": "Noto Sans CJK JP", "fontSize": 25, "color": "#595959", "align": "center", "baseline": "middle"},
      "encoding": {"text": {"field": "share", "format": ".1%"}, "opacity": {"condition": {"test": "datum.sex === '女'", "value": 1}, "value": 0}}
    }
  ]
}
